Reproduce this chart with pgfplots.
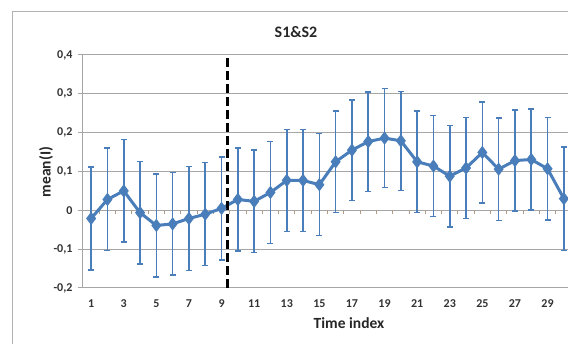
\documentclass[border=0pt]{standalone}
\usepackage{fontspec}
\setmainfont{Carlito}
\usepackage{pgfplots}
\usepackage{pgfplotstable}
\pgfplotsset{compat=1.18}
\definecolor{exblue}{HTML}{4A7EBB}
\definecolor{gridgray}{HTML}{A6A6A6}
\pgfplotstableread{
x y err
1 -0.021 0.1325
2 0.028 0.132
3 0.050 0.132
4 -0.006 0.1325
5 -0.039 0.1325
6 -0.035 0.132
7 -0.021 0.1335
8 -0.010 0.1325
9 0.005 0.1325
10 0.028 0.1325
11 0.023 0.132
12 0.046 0.1315
13 0.077 0.1315
14 0.077 0.1315
15 0.066 0.1315
16 0.125 0.1305
17 0.155 0.1295
18 0.177 0.128
19 0.186 0.1275
20 0.179 0.1275
21 0.125 0.1305
22 0.114 0.1305
23 0.088 0.131
24 0.109 0.1305
25 0.149 0.130
26 0.106 0.1315
27 0.128 0.130
28 0.131 0.130
29 0.107 0.1315
30 0.030 0.133
}\datatable
\begin{document}
\begin{tikzpicture}[x=1pt,y=1pt]
\begin{axis}[
  at={(83pt,56pt)}, anchor=south west,
  scale only axis, width=489pt, height=233pt,
  xmin=0.5, xmax=30.5, ymin=-0.2, ymax=0.4,
  axis line style={draw=none},
  xtick={1,3,...,29},
  xtick style={draw=none},
  ytick={-0.2,-0.1,0,0.1,0.2,0.3,0.4},
  ytick style={gridgray, line width=1pt},
  tick align=outside, major tick length=5pt,
  ymajorgrids, grid style={gridgray, line width=1pt},
  /pgf/number format/assume math mode=true,
  yticklabel style={/pgf/number format/.cd, fixed, precision=1, use comma, /tikz/.cd, font=\fontsize{12}{13}\selectfont\bfseries, text=black!80, xshift=-2pt},
  xticklabel style={font=\fontsize{12}{13}\selectfont\bfseries, text=black!80, yshift=-3pt},
  clip=false,
]
\draw[gridgray, line width=1pt] (axis cs:0.5,-0.2) -- (axis cs:0.5,0.4);
\draw[gridgray, line width=1pt] (axis cs:0.5,0) -- (axis cs:30.5,0);
\pgfplotsinvokeforeach{1.5,2.5,...,30.5}{
  \draw[gridgray!70!brown, line width=0.9pt] (axis cs:#1,0) -- ++(0pt,-4pt);
}
\addplot[exblue, line width=3pt, mark=diamond*, mark size=4.2pt,
  mark options={solid, fill=exblue},
  error bars/.cd, y dir=both, y explicit,
  error bar style={line width=1.6pt, exblue},
  error mark options={rotate=90, mark size=3pt, line width=1.4pt, exblue}]
  table[x=x, y=y, y error=err] {\datatable};
\draw[black, line width=3pt, dash pattern=on 9pt off 4pt] (axis cs:9.35,-0.2) -- (axis cs:9.35,0.4);
\end{axis}
\node[font=\fontsize{16}{18}\selectfont\bfseries, text=black!85] at (296,312) {S1\&S2};
\node[font=\fontsize{15.5}{18}\selectfont\bfseries, text=black!85, rotate=90] at (46,172) {mean(I)};
\node[font=\fontsize{15.5}{18}\selectfont\bfseries, text=black!85] at (349,21) {Time index};
\draw[gray!60, line width=1pt] (12,-10) -- (12,332) -- (600,332);
\pgfresetboundingbox
\path (0,0) rectangle (568,344);
\end{tikzpicture}
\end{document}
